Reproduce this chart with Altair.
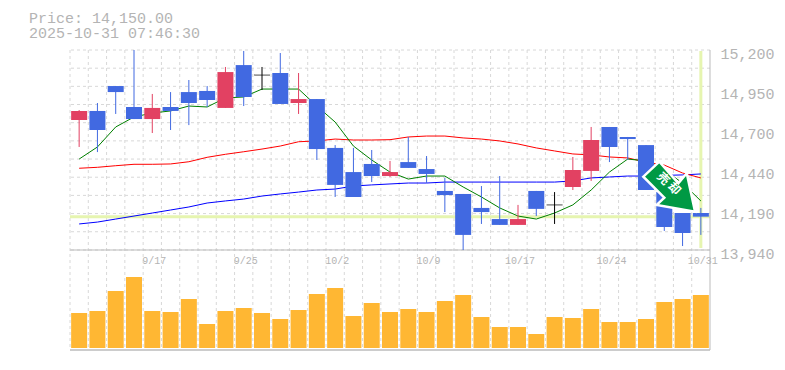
import altair as alt
import pandas as pd

dates = ["9/10","9/11","9/12","9/16","9/17","9/18","9/19","9/22","9/24","9/25",
         "9/26","9/29","9/30","10/1","10/2","10/3","10/6","10/7","10/8","10/9",
         "10/10","10/14","10/15","10/16","10/17","10/20","10/21","10/22","10/23","10/24",
         "10/27","10/28","10/29","10/30","10/31"]
opens = [14759,14816,14973,14841,14765,14841,14935,14942,14835,15105,
         15042,15055,14866,14891,14583,14431,14482,14406,14494,14450,
         14312,14293,14205,14135,14098,14312,14224,14337,14438,14715,
         14652,14601,14305,14173,14173]
closes = [14816,14696,14935,14765,14835,14816,14866,14885,15061,14904,
          15042,14860,14891,14576,14350,14274,14406,14431,14457,14419,
          14286,14035,14179,14098,14135,14199,14224,14444,14633,14589,
          14639,14318,14085,14047,14150]
highs = [14822,14866,14973,15200,14923,14935,15011,14973,15093,15194,
         15093,15181,15055,14891,14601,14583,14570,14501,14652,14532,
         14394,14293,14343,14406,14224,14312,14305,14526,14715,14715,
         14652,14601,14305,14173,14205]
lows = [14589,14557,14797,14765,14677,14696,14727,14841,14835,14847,
        14948,14860,14797,14507,14274,14274,14368,14400,14457,14362,
        14179,13940,14104,14098,14098,14154,14104,14318,14375,14494,
        14507,14318,14060,13965,14035]
ma_short = [14513,14589,14715,14778,14803,14816,14847,14841,14898,14904,
            14954,14954,14954,14847,14746,14595,14507,14431,14387,14406,
            14406,14337,14274,14205,14154,14135,14173,14224,14318,14431,
            14513,14501,14444,14362,14249]
ma_mid = [14455,14461,14471,14480,14480,14482,14496,14524,14543,14559,
          14576,14595,14622,14627,14639,14633,14633,14635,14652,14658,
          14658,14646,14639,14627,14608,14583,14564,14545,14539,14526,
          14520,14494,14475,14425,14394]
ma_long = [14104,14116,14135,14154,14173,14192,14211,14236,14249,14261,
           14280,14293,14305,14318,14324,14343,14350,14356,14362,14362,
           14368,14368,14368,14368,14368,14368,14368,14375,14394,14400,
           14406,14406,14410,14413,14419]
volumes = [3500,3700,5700,7100,3700,3600,4900,2400,3700,4000,
           3500,2900,3800,5400,6000,3200,4500,3600,3900,3600,
           4700,5300,3100,2100,2100,1400,3100,3000,3900,2600,
           2600,2900,4600,4900,5300]
price_ticks = [15200,14948,14696,14444,14192,13940]
grid_prices = [15200,15085.5,14971,14856.5,14742,14627.5,14513,14398.5,14284,14169.5,14055,13940]
label_every = [4,9,14,19,24,29,34]
title_lines = ["Price: 14,150.00","2025-10-31 07:46:30"]
last_price = 14150

GREY = "#b4b4b4"
GRIDC = "#d8d8d8"
BLUE = "#4169e1"
RED = "#e24162"
LIME = "#e6f5b0"
MONO = "Liberation Mono"

df = pd.DataFrame({
    "i": range(len(dates)), "date": dates, "o": opens, "c": closes, "h": highs, "l": lows,
    "s": ma_short, "m": ma_mid, "g": ma_long, "v": volumes,
})
df["top"] = df[["o", "c"]].max(axis=1)
df["bot"] = df[["o", "c"]].min(axis=1)
df["kind"] = ["up" if c > o else ("down" if c < o else "flat") for o, c in zip(opens, closes)]

xs = alt.Scale(domain=[-0.5, 34.5], nice=False, zero=False, padding=0)
X = alt.X("i:Q", scale=xs, axis=None)
ys = alt.Scale(domain=[13940, 15200], range=[200, 0], nice=False, zero=False)
vs = alt.Scale(domain=[0, 8500], range=[298, 213], nice=False, zero=True)
def Y(f):
    return alt.Y(f, scale=ys, axis=None)

kind_color = alt.Color("kind:N", scale=alt.Scale(domain=["up", "down", "flat"], range=[RED, BLUE, "black"]), legend=None)

# grid
vgrid = alt.Chart(pd.DataFrame({"i": [k - 0.5 for k in range(35)]})).mark_rule(
    color=GRIDC, strokeDash=[3, 3], strokeWidth=1).encode(x=alt.X("i:Q", scale=xs, axis=None))
hgrid = alt.Chart(pd.DataFrame({"p": grid_prices})).mark_rule(
    color=GRIDC, strokeDash=[3, 3], strokeWidth=1).encode(y=Y("p:Q"))

# price axis + frame
axis_layer = alt.Chart(pd.DataFrame({"p": [13940]})).mark_rule(color="#bbbbbb", strokeWidth=1).encode(
    y=alt.Y("p:Q", scale=ys, axis=alt.Axis(
        orient="right", values=price_ticks, grid=False, ticks=False, domain=False, title=None,
        labelFont=MONO, labelFontSize=15, labelColor=GREY, labelPadding=10,
        labelOffset=3, labelBaseline="middle", labelOverlap=False, labelBound=False,
        labelFlush=False,
        labelExpr="format(round(datum.value/10)*10, ',')")))
frame_right = alt.Chart(pd.DataFrame({"i": [34.5]})).mark_rule(color="#bbbbbb", strokeWidth=1).encode(x=alt.X("i:Q", scale=xs, axis=None))
frame_bottom = alt.Chart(pd.DataFrame({"a": [1]})).mark_rule(color="#bbbbbb", strokeWidth=1.5).encode(
    x=alt.value(0), x2=alt.value(640), y=alt.value(300))

# current price cross
lime_h = alt.Chart(pd.DataFrame({"p": [last_price]})).mark_rule(color=LIME, strokeWidth=3).encode(y=Y("p:Q"))
lime_v = alt.Chart(df.tail(1)).mark_rule(color=LIME, strokeWidth=3).encode(
    x=X, y=alt.value(1), y2=alt.value(198))

# moving averages
def ma(f, col):
    return alt.Chart(df).mark_line(color=col, strokeWidth=1).encode(x=X, y=Y(f"{f}:Q"))

# candles
wicks = alt.Chart(df).mark_rule(strokeWidth=1).encode(x=X, y=Y("h:Q"), y2="l:Q", color=kind_color)
bodies = alt.Chart(df[df.kind != "flat"]).mark_bar(size=16, orient="vertical").encode(
    x=X, y=Y("top:Q"), y2="bot:Q", color=kind_color)
dojis = alt.Chart(df[df.kind == "flat"]).mark_tick(size=16, thickness=1, orient="horizontal", color="black").encode(
    x=X, y=Y("c:Q"))

# volume
vol = alt.Chart(df).mark_bar(size=16, orient="vertical", color="#ffb733").encode(
    x=X, y=alt.Y("v:Q", scale=vs, axis=None))

# date labels
labels = alt.Chart(df.iloc[label_every]).mark_text(
    font=MONO, fontSize=10, color=GREY, baseline="middle", dx=2).encode(
    x=X, y=alt.value(211), text="date:N")

# header
titles = alt.Chart(pd.DataFrame({"t": title_lines, "y": [-32, -17]})).mark_text(
    font=MONO, fontSize=15, color=GREY, align="left", baseline="middle").encode(
    x=alt.value(-41), y=alt.Y("y:Q", scale=None, axis=None), text="t:N")

# signal arrow
ARROW = "M-0.323,-0.833 L-0.857,-0.333 L-0.157,0.367 L-0.41,0.61 L0.867,0.833 L0.59,-0.447 L0.31,-0.113 Z"
arrow = alt.Chart(pd.DataFrame({"i": [32.26], "p": [14339]})).mark_point(
    shape=ARROW, size=3600, filled=True, fill="#009944", stroke="white", strokeWidth=2.5, opacity=1
).encode(x=X, y=Y("p:Q"))
arrow_text = alt.Chart(pd.DataFrame({"i": [31.95, 32.55], "p": [14390, 14327], "t": ["売", "却"]})).mark_text(
    font="Noto Sans CJK JP", fontSize=12, fontWeight="bold", color="white", angle=45,
    align="center", baseline="middle").encode(x=X, y=Y("p:Q"), text="t:N")

chart = alt.layer(
    vgrid, hgrid, lime_h, lime_v, axis_layer, frame_right, frame_bottom,
    ma("g", "blue"), ma("m", "red"), ma("s", "green"),
    wicks, bodies, dojis, vol, labels, titles, arrow, arrow_text,
).resolve_scale(y="independent", color="independent").properties(
    width=640, height=300,
    autosize=alt.AutoSizeParams(type="none"),
    padding={"left": 62, "top": 42, "right": 67, "bottom": 8},
).configure_view(stroke=None)

chart.save("out.html", embed_options={"renderer": "svg", "actions": False})
